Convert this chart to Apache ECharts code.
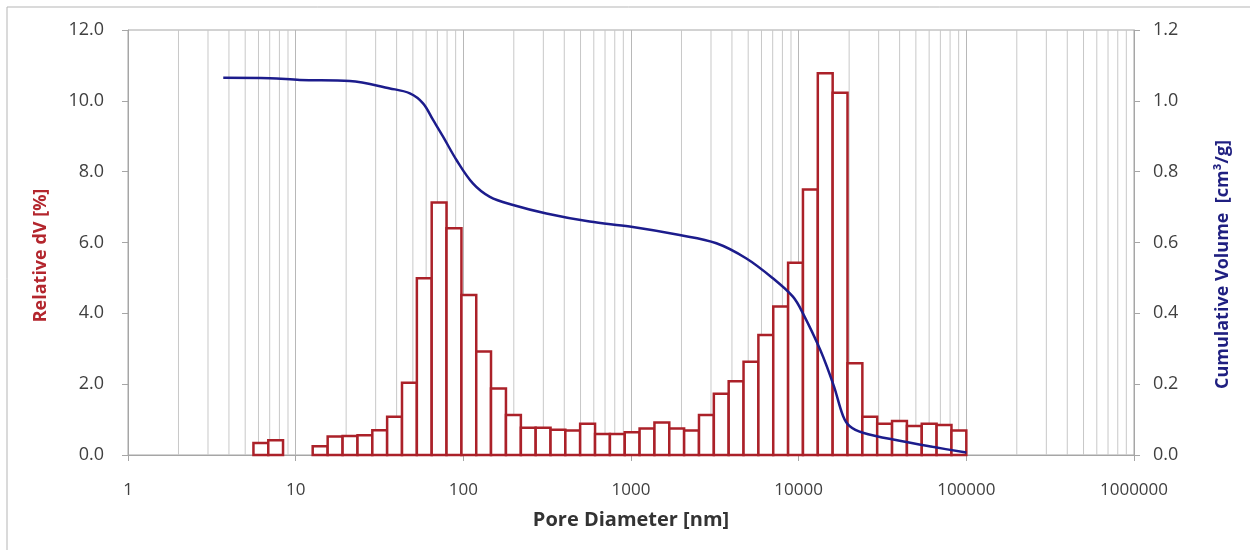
<!DOCTYPE html>
<html lang="en">

<head>
    <meta charset="UTF-8">
    <title>Pore Size Distribution</title>
    <script src="https://cdn.jsdelivr.net/npm/echarts@6/dist/echarts.min.js"></script>
    <style>
        html, body { margin: 0; padding: 0; background: #fff; }
        #main { width: 1250px; height: 550px; }
    </style>
</head>

<body>
    <div id="main"></div>
    <script>
        // bin centres of the histogram [nm]
        const binCenters = [6.2, 7.6, 9.3, 11.4, 14.0, 17.2, 21.1, 25.9, 31.7, 38.9,
            47.7, 58.5, 71.7, 87.9, 108, 132, 162, 199, 244, 299,
            367, 449, 551, 676, 829, 1016, 1246, 1528, 1873, 2297,
            2817, 3454, 4236, 5194, 6369, 7810, 9579, 11746, 14403, 17660,
            21656, 26555, 32562, 39930, 48963, 60040, 73622, 90281];
        // relative dV [%]
        const relativeDV = [0.34, 0.42, 0, 0, 0.25, 0.52, 0.54, 0.56, 0.70, 1.08,
            2.04, 4.99, 7.13, 6.40, 4.52, 2.92, 1.88, 1.13, 0.77, 0.77,
            0.71, 0.69, 0.88, 0.59, 0.59, 0.64, 0.75, 0.92, 0.75, 0.69,
            1.13, 1.73, 2.08, 2.63, 3.39, 4.19, 5.43, 7.50, 10.78, 10.23,
            2.59, 1.08, 0.88, 0.96, 0.82, 0.88, 0.85, 0.69];
        // cumulative volume curve [nm, cm3/g]
        const cumDiameter = [3.7, 7, 10.6, 21, 36.5, 48, 57.5, 66, 75.7, 91,
            114, 144, 198, 313, 567, 982, 1950, 3230, 4880, 7020,
            9240, 10600, 13500, 16200, 18400, 20100, 24150, 40000, 62800, 100000];
        const cumVolume = [1.065, 1.064, 1.059, 1.056, 1.035, 1.021, 0.993, 0.946, 0.899, 0.833,
            0.767, 0.729, 0.706, 0.682, 0.659, 0.645, 0.621, 0.598, 0.555, 0.499,
            0.447, 0.400, 0.295, 0.195, 0.110, 0.082, 0.063, 0.040, 0.023, 0.007];

        const leftTicks = [0, 2, 4, 6, 8, 10, 12];
        const rightTicks = [0, 0.2, 0.4, 0.6, 0.8, 1.0, 1.2];

        const chart = echarts.init(document.getElementById('main'));

        // bar edges: geometric middle between neighbouring centres
        const bars = [];
        for (let i = 0; i < binCenters.length; i++) {
            const c = binCenters[i];
            const prev = i > 0 ? binCenters[i - 1] : c * c / binCenters[i + 1];
            const next = i < binCenters.length - 1 ? binCenters[i + 1] : c * c / binCenters[i - 1];
            if (relativeDV[i] > 0) {
                bars.push([Math.sqrt(prev * c), Math.sqrt(c * next), relativeDV[i]]);
            }
        }

        // minor vertical grid lines at 2..9 of each decade
        const minorLines = [];
        for (let d = 1; d < 1000000; d *= 10) {
            for (let k = 2; k <= 9; k++) minorLines.push([k * d, 0]);
        }

        const curve = cumDiameter.map((d, i) => [d, cumVolume[i]]);

        const tickFont = { fontFamily: 'Open Sans', fontSize: 17, color: '#404040' };

        const option = {
            animation: false,
            backgroundColor: '#fff',
            graphic: [
                { type: 'line', shape: { x1: 7, y1: 7, x2: 1250, y2: 7 }, style: { stroke: '#b5b5b5', lineWidth: 1 } },
                { type: 'line', shape: { x1: 7, y1: 7, x2: 7, y2: 550 }, style: { stroke: '#b5b5b5', lineWidth: 1 } }
            ],
            grid: {
                left: 128, right: 116, top: 30, bottom: 95,
                show: true, borderColor: '#a6a6a6', borderWidth: 1
            },
            xAxis: {
                type: 'log',
                logBase: 10,
                min: 1,
                max: 1000000,
                name: 'Pore Diameter [nm]',
                nameLocation: 'middle',
                nameGap: 55,
                nameTextStyle: { fontFamily: 'Open Sans', fontSize: 20, fontWeight: 'bold', color: '#333' },
                axisLine: { lineStyle: { color: '#a6a6a6' } },
                axisTick: { show: true, length: 6, lineStyle: { color: '#a6a6a6' } },
                axisLabel: Object.assign({ margin: 27, formatter: v => String(Math.round(v)) }, tickFont),
                splitLine: { show: true, lineStyle: { color: '#b8b8b8', width: 1 } }
            },
            yAxis: [
                {
                    type: 'value',
                    min: leftTicks[0],
                    max: leftTicks[leftTicks.length - 1],
                    interval: 2,
                    name: 'Relative dV [%]',
                    nameLocation: 'middle',
                    nameGap: 78,
                    nameTextStyle: {
                        fontFamily: 'Open Sans', fontSize: 18, fontWeight: 'bold', color: '#b3262d',
                        padding: [0, 26, 0, 0]
                    },
                    axisLine: { show: true, lineStyle: { color: '#a6a6a6' } },
                    axisTick: { show: true, length: 6, lineStyle: { color: '#a6a6a6' } },
                    axisLabel: Object.assign({ margin: 24, formatter: v => v.toFixed(1) }, tickFont, { fontSize: 18 }),
                    splitLine: { show: false }
                },
                {
                    type: 'value',
                    min: rightTicks[0],
                    max: rightTicks[rightTicks.length - 1],
                    interval: 0.2,
                    name: 'Cumulative Volume  [cm³/g]',
                    nameLocation: 'middle',
                    nameGap: 80,
                    nameRotate: 90,
                    nameTextStyle: {
                        fontFamily: 'Open Sans', fontSize: 18, fontWeight: 'bold', color: '#1f1f80',
                        padding: [0, 44, 0, 0]
                    },
                    axisLine: { show: true, lineStyle: { color: '#a6a6a6' } },
                    axisTick: { show: true, length: 6, lineStyle: { color: '#a6a6a6' } },
                    axisLabel: Object.assign({ margin: 19, formatter: v => v.toFixed(1) }, tickFont, { fontSize: 18 }),
                    splitLine: { show: false }
                }
            ],
            series: [
                {
                    type: 'custom',
                    name: 'minor grid',
                    silent: true,
                    z: 1,
                    data: minorLines,
                    encode: { x: 0, y: 1 },
                    renderItem: (params, api) => {
                        const a = api.coord([api.value(0), 0]);
                        const b = api.coord([api.value(0), 12]);
                        return {
                            type: 'line',
                            shape: { x1: a[0], y1: a[1], x2: b[0], y2: b[1] },
                            style: { stroke: '#c8c8c8', lineWidth: 1 }
                        };
                    }
                },
                {
                    type: 'custom',
                    name: 'Relative dV',
                    z: 3,
                    data: bars,
                    encode: { x: [0, 1], y: 2 },
                    renderItem: (params, api) => {
                        const p0 = api.coord([api.value(0), api.value(2)]);
                        const p1 = api.coord([api.value(1), 0]);
                        return {
                            type: 'rect',
                            shape: { x: p0[0], y: p0[1], width: p1[0] - p0[0], height: p1[1] - p0[1] },
                            style: { fill: '#ffffff', stroke: '#ab2129', lineWidth: 2.5 }
                        };
                    }
                },
                {
                    type: 'line',
                    name: 'Cumulative Volume',
                    yAxisIndex: 1,
                    z: 5,
                    data: curve,
                    smooth: 0.35,
                    showSymbol: false,
                    lineStyle: { color: '#1c1c8c', width: 2.5 }
                }
            ]
        };

        chart.setOption(option);
    </script>

</body>

</html>
